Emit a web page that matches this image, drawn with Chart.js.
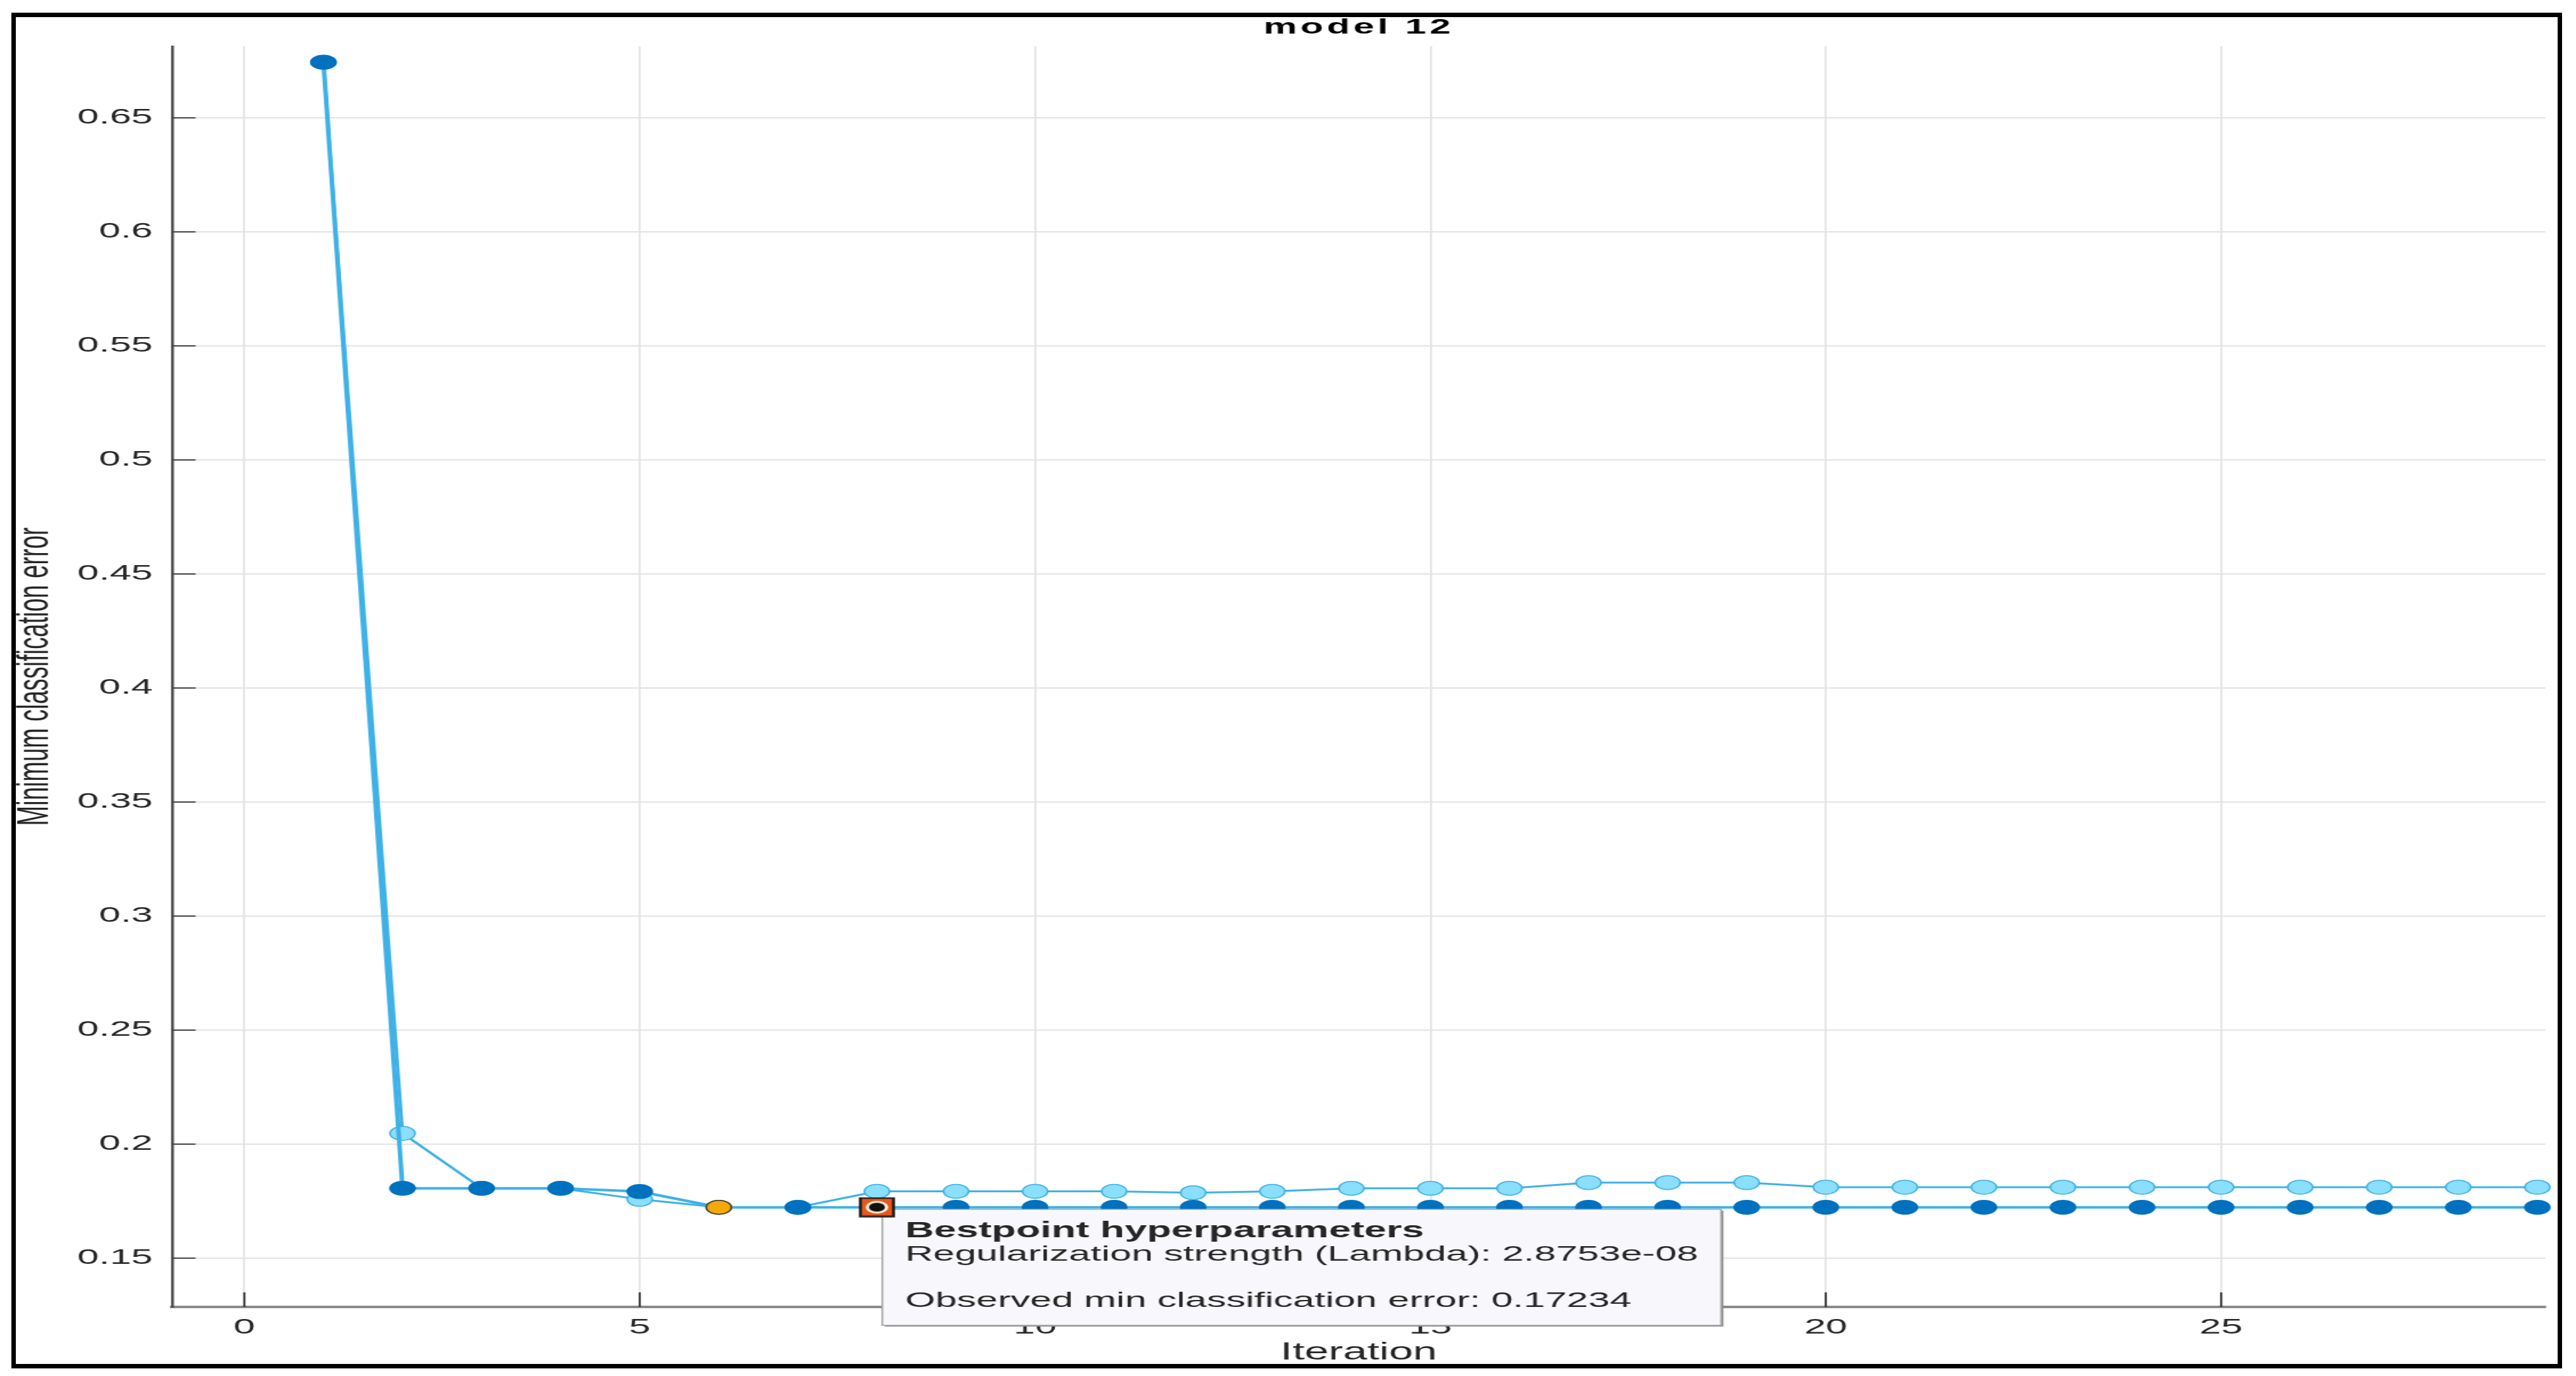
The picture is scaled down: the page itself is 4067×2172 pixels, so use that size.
<!DOCTYPE html>
<html>
<head>
<meta charset="utf-8">
<title>model 12</title>
<script src="https://cdn.jsdelivr.net/npm/chart.js@4.4.1/dist/chart.umd.min.js"></script>
<style>
  html, body { margin: 0; padding: 0; background: #fff; }
  #page { position: relative; width: 4067px; height: 2172px; overflow: hidden; background: #fff; }
  /* the reference is a horizontally stretched MATLAB figure, so the chart is drawn narrow and stretched */
  #stretch { position: absolute; left: 0; top: 0; width: 2259px; height: 2172px;
             transform: scaleX(1.8004); transform-origin: 0 0; }
  #frame { position: absolute; left: 18px; top: 20px; width: 4027px; height: 2140px;
           border: 7px solid #000; box-sizing: border-box; pointer-events: none; }
</style>
</head>
<body>
<div id="page">
  <div id="stretch"><canvas id="chart" width="2259" height="2172"></canvas></div>
  <div id="frame"></div>
</div>
<script>
// Bayesian optimisation trace: minimum classification error per iteration

const iterations = [1, 2, 3, 4, 5, 6, 7, 8, 9, 10, 11, 12, 13, 14, 15,
                    16, 17, 18, 19, 20, 21, 22, 23, 24, 25, 26, 27, 28, 29];

// dark filled markers (min observed)
const minObserved = [0.6744, 0.1806, 0.1806, 0.1806, 0.1792, 0.1723, 0.1723, 0.1723, 0.1723, 0.1723,
                     0.1723, 0.1723, 0.1723, 0.1723, 0.1723, 0.1723, 0.1723, 0.1723, 0.1723, 0.1723,
                     0.1723, 0.1723, 0.1723, 0.1723, 0.1723, 0.1723, 0.1723, 0.1723, 0.1723];

// light markers (estimated min)
const minEstimated = [0.6744, 0.2047, 0.1806, 0.1806, 0.1758, 0.1723, 0.1723, 0.1793, 0.1793, 0.1793,
                      0.1793, 0.1787, 0.1793, 0.1806, 0.1806, 0.1806, 0.1831, 0.1831, 0.1831, 0.1811,
                      0.1811, 0.1811, 0.1811, 0.1811, 0.1811, 0.1811, 0.1811, 0.1811, 0.1811];

const xTicks = [0, 5, 10, 15, 20, 25];
const yTicks = [0.15, 0.2, 0.25, 0.3, 0.35, 0.4, 0.45, 0.5, 0.55, 0.6, 0.65];

const bestIteration = 6;        // orange marker
const cursorIteration = 8;      // data tip marker
const cursorValue = 0.17234;

const chartTitle = 'model 12';
const tipTitle = 'Bestpoint hyperparameters';
const tipLines = ['Regularization strength (Lambda): 2.8753e-08', '', 'Observed min classification error: 0.17234'];

const FONT = '"Liberation Sans", Arial, Helvetica, sans-serif';
const TEXT = '#262626';
const LINE_BLUE = '#3FB1E6';
const DARK_BLUE = '#0071BF';
const LIGHT_FILL = '#8ADFFC';

function makeCursorMarker() {
  const c = document.createElement('canvas');
  c.width = 32; c.height = 32;
  const g = c.getContext('2d');
  g.fillStyle = '#E8561C';
  g.fillRect(1.5, 1.5, 29, 29);
  g.lineWidth = 2.5;
  g.strokeStyle = '#1a1a1a';
  g.strokeRect(1.5, 1.5, 29, 29);
  g.beginPath(); g.arc(16, 16, 10, 0, Math.PI * 2); g.fillStyle = '#FFF2D8'; g.fill();
  g.beginPath(); g.arc(16, 16, 7, 0, Math.PI * 2); g.fillStyle = '#111'; g.fill();
  return c;
}

// MATLAB-ish extras: inward ticks, bold title, data tip box
const matlabLook = {
  id: 'matlabLook',
  beforeDatasetsDraw(chart) {
    const { ctx, chartArea, scales } = chart;
    ctx.save();
    ctx.lineWidth = 2;
    ctx.strokeStyle = '#404040';
    yTicks.forEach(v => {
      const y = scales.y.getPixelForValue(v);
      ctx.beginPath(); ctx.moveTo(chartArea.left, y); ctx.lineTo(chartArea.left + 20.5, y); ctx.stroke();
    });
    ctx.strokeStyle = '#262626';
    ctx.lineWidth = 1.7;
    xTicks.forEach(v => {
      const x = scales.x.getPixelForValue(v);
      ctx.beginPath(); ctx.moveTo(x, chartArea.bottom); ctx.lineTo(x, chartArea.bottom - 23); ctx.stroke();
    });
    ctx.restore();
  },
  afterDatasetDraw(chart, args) {
    if (args.index !== 0) return;
    const pt = chart.getDatasetMeta(2).data[0];
    const { ctx } = chart;
    const pad = 20;
    ctx.save();
    ctx.font = 'bold 35px ' + FONT;
    let textW = ctx.measureText(tipTitle).width;
    ctx.font = '34px ' + FONT;
    tipLines.forEach(line => { textW = Math.max(textW, ctx.measureText(line).width); });
    const left = pt.x + 4.7, top = pt.y + 3.4, w = textW + pad * 2, h = 183;
    ctx.fillStyle = '#8c8c8c';
    ctx.fillRect(left + 2, top + 2, w, h);
    ctx.fillStyle = '#F8F8FC';
    ctx.fillRect(left, top, w, h);
    ctx.lineWidth = 1.5;
    ctx.strokeStyle = '#a6a6a6';
    ctx.strokeRect(left, top, w, h);
    ctx.fillStyle = TEXT;
    ctx.textBaseline = 'alphabetic';
    ctx.textAlign = 'left';
    ctx.font = 'bold 35px ' + FONT;
    ctx.fillText(tipTitle, left + pad, top + 44);
    ctx.font = '34px ' + FONT;
    const base = [81, 117, 154];
    tipLines.forEach((line, i) => ctx.fillText(line, left + pad, top + base[i]));
    ctx.restore();
  },
  afterDraw(chart) {
    const { ctx, chartArea } = chart;
    ctx.save();
    ctx.fillStyle = '#000';
    ctx.font = 'bold 33px ' + FONT;
    if ('letterSpacing' in ctx) ctx.letterSpacing = '3px';
    ctx.textAlign = 'center';
    ctx.textBaseline = 'alphabetic';
    ctx.fillText(chartTitle, (chartArea.left + chartArea.right) / 2, 53);
    ctx.restore();
  }
};

Chart.defaults.font.family = FONT;
Chart.defaults.color = TEXT;

const ctx = document.getElementById('chart').getContext('2d');
new Chart(ctx, {
  type: 'line',
  data: {
    datasets: [
      {
        label: 'Min observed',
        data: iterations.map((it, i) => ({ x: it, y: minObserved[i] })),
        borderColor: LINE_BLUE,
        borderWidth: 4,
        pointRadius: 11,
        pointBorderWidth: 1.5,
        pointBackgroundColor: c => iterations[c.dataIndex] === bestIteration ? '#F6A70A' : DARK_BLUE,
        pointBorderColor: c => iterations[c.dataIndex] === bestIteration ? '#4a3c20' : DARK_BLUE,
        tension: 0,
        clip: false,
        order: 1
      },
      {
        label: 'Estimated min',
        data: iterations.map((it, i) => ({ x: it, y: minEstimated[i] })),
        borderColor: LINE_BLUE,
        borderWidth: 3,
        pointRadius: 11,
        pointBorderWidth: 1.5,
        pointBackgroundColor: LIGHT_FILL,
        pointBorderColor: LINE_BLUE,
        tension: 0,
        clip: false,
        order: 2
      },
      {
        label: 'Data tip',
        data: [{ x: cursorIteration, y: cursorValue }],
        showLine: false,
        pointStyle: makeCursorMarker(),
        pointRadius: 16,
        clip: false,
        order: 0
      }
    ]
  },
  options: {
    responsive: false,
    devicePixelRatio: 1,
    animation: false,
    events: [],
    layout: { padding: { top: 73, right: 27, left: 0, bottom: 0 } },
    plugins: {
      legend: { display: false },
      tooltip: { enabled: false },
      title: { display: false }
    },
    scales: {
      x: {
        type: 'linear',
        min: -0.913,
        max: 29.1,
        afterBuildTicks: s => { s.ticks = xTicks.map(v => ({ value: v })); },
        afterFit: s => { s.height = 109; },
        grid: { color: '#e3e3e3', lineWidth: 1.7, drawTicks: false },
        border: { display: true, color: '#8a8a8a', width: 4 },
        ticks: { font: { size: 34 }, color: TEXT, padding: 12, maxRotation: 0, callback: v => String(v) },
        title: { display: true, text: 'Iteration', color: TEXT, font: { size: 38 }, padding: { top: 0, bottom: 14 } }
      },
      y: {
        type: 'linear',
        min: 0.1286,
        max: 0.6814,
        afterBuildTicks: s => { s.ticks = yTicks.map(v => ({ value: v })); },
        afterFit: s => { s.width = 151; },
        grid: { color: '#e3e3e3', lineWidth: 2, drawTicks: false },
        border: { display: true, color: '#4d4d4d', width: 2.5 },
        ticks: { font: { size: 34 }, color: TEXT, padding: 17, callback: v => String(v) },
        title: { display: true, text: 'Minimum classification error', color: TEXT, font: { size: 38 }, padding: { top: 9, bottom: 0 } }
      }
    }
  },
  plugins: [matlabLook]
});
</script>
</body>
</html>
